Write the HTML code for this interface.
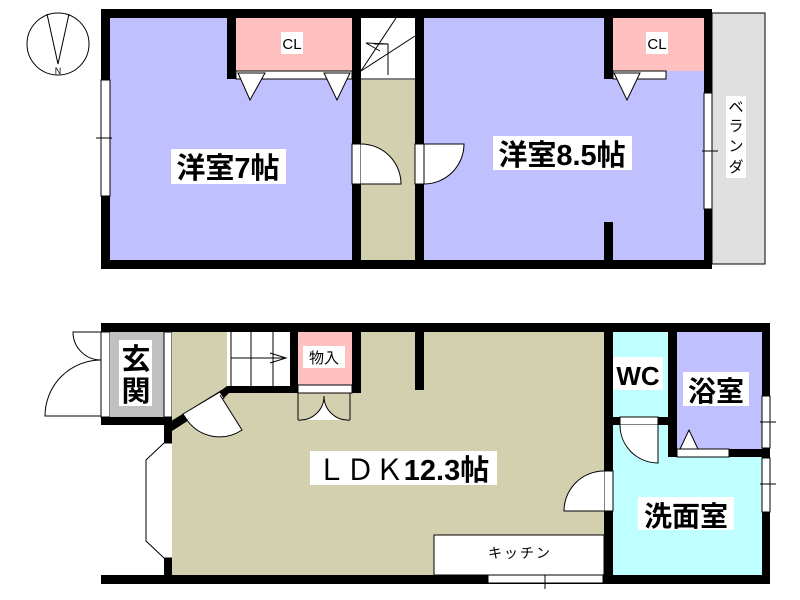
<!DOCTYPE html>
<html><head><meta charset="utf-8"><style>
html,body{margin:0;padding:0;background:#fff;}
svg{display:block;}
text{font-family:"Liberation Sans","Noto Sans CJK JP",sans-serif;}
</style></head><body>
<svg width="800" height="600" viewBox="0 0 800 600" xmlns="http://www.w3.org/2000/svg">
<circle cx="58" cy="44" r="31" fill="#fff" stroke="#000" stroke-width="1"/>
<polyline points="47,14 58,64 69,14" fill="none" stroke="#000"/>
<text x="58" y="74" font-size="9" text-anchor="middle">N</text>

<rect x="712" y="13" width="53" height="251" fill="#e0e0e0" stroke="#000" stroke-width="1"/>
<rect x="101" y="9" width="611" height="260" fill="#000"/>
<rect x="110" y="18" width="242" height="242" fill="#c0c0ff"/>
<rect x="361" y="18" width="54" height="62" fill="#fff"/>
<rect x="361" y="80" width="54" height="180" fill="#d3d0b0"/>
<rect x="424" y="18" width="280" height="242" fill="#c0c0ff"/>
<rect x="227" y="18" width="9" height="61" fill="#000"/>
<rect x="236" y="18" width="116" height="53" fill="#ffc0c0"/>
<rect x="236" y="71" width="116" height="8" fill="#fff" stroke="#000" stroke-width="1"/>
<polygon points="238,73 250,100 265,73" fill="#fff" stroke="#000"/>
<polygon points="324,73 337,100 350,73" fill="#fff" stroke="#000"/>
<rect x="281" y="32" width="22" height="22" fill="#fff"/>
<text x="292" y="49" font-size="15" text-anchor="middle">CL</text>
<line x1="396" y1="18" x2="361" y2="71" stroke="#000"/>
<line x1="415" y1="36" x2="361" y2="71" stroke="#000"/>
<polyline points="388,44 366,43 380,51" fill="none" stroke="#000"/>
<polyline points="374,44 388,44 388,75" fill="none" stroke="#000"/>
<line x1="361" y1="79" x2="415" y2="79" stroke="#000"/>
<rect x="604" y="18" width="9" height="61" fill="#000"/>
<rect x="613" y="18" width="91" height="53" fill="#ffc0c0"/>
<rect x="613" y="71" width="53" height="8" fill="#fff" stroke="#000" stroke-width="1"/>
<polygon points="614,73 627,100 640,73" fill="#fff" stroke="#000"/>
<rect x="646" y="32" width="22" height="22" fill="#fff"/>
<text x="657" y="49" font-size="15" text-anchor="middle">CL</text>
<rect x="604" y="222" width="9" height="38" fill="#000"/>
<rect x="101" y="80" width="9" height="116" fill="#fff" stroke="#000"/>
<line x1="96" y1="138" x2="112" y2="138" stroke="#000"/>
<rect x="704" y="93" width="8" height="116" fill="#fff" stroke="#000"/>
<line x1="702" y1="151" x2="718" y2="151" stroke="#000"/>
<rect x="352" y="144" width="9" height="40" fill="#fff" stroke="#000"/>
<path d="M361,144 A40,40 0 0 1 401,184 L361,184" fill="#fff" stroke="#000"/>
<rect x="415" y="144" width="9" height="40" fill="#fff" stroke="#000"/>
<path d="M424,144 L464,144 A40,40 0 0 1 424,184 Z" fill="#fff" stroke="#000"/>
<rect x="171" y="149" width="115" height="35" fill="#fff"/>
<text x="228" y="178" font-size="29" font-weight="bold" text-anchor="middle">洋室7帖</text>
<rect x="493" y="136" width="139" height="34" fill="#fff"/>
<text x="562" y="165" font-size="29" font-weight="bold" text-anchor="middle">洋室8.5帖</text>
<rect x="726" y="96" width="20" height="82" fill="#fff"/>
<text font-size="15" text-anchor="middle"><tspan x="736" y="112">ベ</tspan><tspan x="736" y="131">ラ</tspan><tspan x="736" y="151">ン</tspan><tspan x="736" y="172">ダ</tspan></text>

<rect x="101" y="323" width="669" height="9" fill="#000"/>
<rect x="101" y="575" width="512" height="9" fill="#000"/>
<rect x="604" y="575" width="166" height="9" fill="#000"/>
<rect x="101" y="332" width="9" height="85" fill="#fff" stroke="#000"/>
<rect x="110" y="332" width="54" height="85" fill="#c0c0c0"/>
<rect x="164" y="332" width="8" height="85" fill="#fff" stroke="#000"/>
<rect x="101" y="417" width="71" height="8" fill="#000"/>
<path d="M101,332 L73,332 A28,28 0 0 0 101,360" fill="none" stroke="#000"/>
<path d="M101,360 A56,56 0 0 0 45,416 L101,416" fill="none" stroke="#000"/>
<rect x="172" y="332" width="432" height="243" fill="#d3d0b0"/>
<rect x="164" y="417" width="8" height="158" fill="#000"/>
<rect x="164" y="443" width="8" height="115" fill="#fff"/>
<polyline points="172,443 164,443 146,460 146,541 164,558 172,558" fill="#fff" stroke="#000"/>
<rect x="227" y="332" width="63" height="54" fill="#fff"/>
<g stroke="#000" stroke-width="1">
<line x1="231" y1="332" x2="231" y2="386"/>
<line x1="251" y1="332" x2="251" y2="386"/>
<line x1="273" y1="332" x2="273" y2="386"/>
<line x1="231" y1="358" x2="286" y2="358"/>
<polyline points="270,353 286,358 270,363" fill="none"/>
</g>
<polygon points="227,386 298,386 298,393 229,393 225,397 172,431 168,423 223,389" fill="#000"/>
<polygon points="183,414 220,392 224,398 187,420" fill="#fff" stroke="#000"/>
<path d="M220,395 L242,430 A40,40 0 0 1 187,420" fill="#fff" stroke="#000"/>
<rect x="290" y="332" width="8" height="61" fill="#000"/>
<rect x="298" y="332" width="54" height="53" fill="#ffc0c0"/>
<rect x="352" y="332" width="9" height="61" fill="#000"/>
<rect x="298" y="385" width="54" height="8" fill="#fff" stroke="#000"/>
<path d="M298,420 A24,24 0 0 0 324,396 A24,24 0 0 0 350,420" fill="#fff" stroke="#000"/>
<line x1="298" y1="393" x2="298" y2="420" stroke="#000"/>
<line x1="350" y1="393" x2="350" y2="420" stroke="#000"/>
<rect x="303" y="346" width="42" height="22" fill="#fff"/>
<text x="324" y="363" font-size="15" text-anchor="middle">物入</text>
<rect x="415" y="332" width="9" height="58" fill="#000"/>
<rect x="434" y="535" width="170" height="40" fill="#fff" stroke="#000"/>
<text x="520" y="558" font-size="14" text-anchor="middle" letter-spacing="2">キッチン</text>
<rect x="488" y="575" width="115" height="8" fill="#fff" stroke="#000"/>
<line x1="545" y1="575" x2="545" y2="589" stroke="#000"/>
<!-- right block -->
<rect x="604" y="332" width="9" height="243" fill="#000"/>
<rect x="613" y="332" width="55" height="85" fill="#c0ffff"/>
<rect x="613" y="425" width="55" height="32" fill="#c0ffff"/>
<rect x="613" y="457" width="149" height="118" fill="#c0ffff"/>
<rect x="668" y="332" width="9" height="125" fill="#000"/>
<rect x="677" y="332" width="85" height="117" fill="#c0c0ff"/>
<rect x="613" y="417" width="55" height="8" fill="#000"/>
<rect x="668" y="449" width="102" height="8" fill="#000"/>
<rect x="762" y="332" width="8" height="252" fill="#000"/>
<rect x="620" y="417" width="38" height="8" fill="#fff" stroke="#000"/>
<path d="M620,425 A38,38 0 0 0 658,463 L658,425" fill="#fff" stroke="#000"/>
<rect x="677" y="449" width="52" height="8" fill="#fff" stroke="#000"/>
<polygon points="680,449 689,430 698,449" fill="#fff" stroke="#000"/>
<rect x="604" y="471" width="9" height="40" fill="#fff" stroke="#000"/>
<path d="M604,471 A40,40 0 0 0 564,511 L604,511" fill="#fff" stroke="#000"/>
<rect x="762" y="396" width="8" height="52" fill="#fff" stroke="#000"/>
<line x1="760" y1="422" x2="776" y2="422" stroke="#000"/>
<rect x="762" y="458" width="8" height="54" fill="#fff" stroke="#000"/>
<line x1="760" y1="484" x2="776" y2="484" stroke="#000"/>
<rect x="119" y="340" width="33" height="66" fill="#fff"/>
<text x="136" y="369" font-size="29" font-weight="bold" text-anchor="middle">玄</text>
<text x="136" y="401" font-size="29" font-weight="bold" text-anchor="middle">関</text>
<rect x="310" y="451" width="187" height="34" fill="#fff"/>
<text x="403" y="480" font-size="29" text-anchor="middle">ＬＤＫ<tspan font-weight="bold">12.3帖</tspan></text>
<rect x="613" y="357" width="50" height="33" fill="#fff"/>
<text x="638" y="385" font-size="26" font-weight="bold" text-anchor="middle">WC</text>
<rect x="683" y="372" width="66" height="34" fill="#fff"/>
<text x="716" y="401" font-size="28" font-weight="bold" text-anchor="middle">浴室</text>
<rect x="638" y="497" width="96" height="33" fill="#fff"/>
<text x="686" y="526" font-size="28" font-weight="bold" text-anchor="middle">洗面室</text>
</svg>
</body></html>
